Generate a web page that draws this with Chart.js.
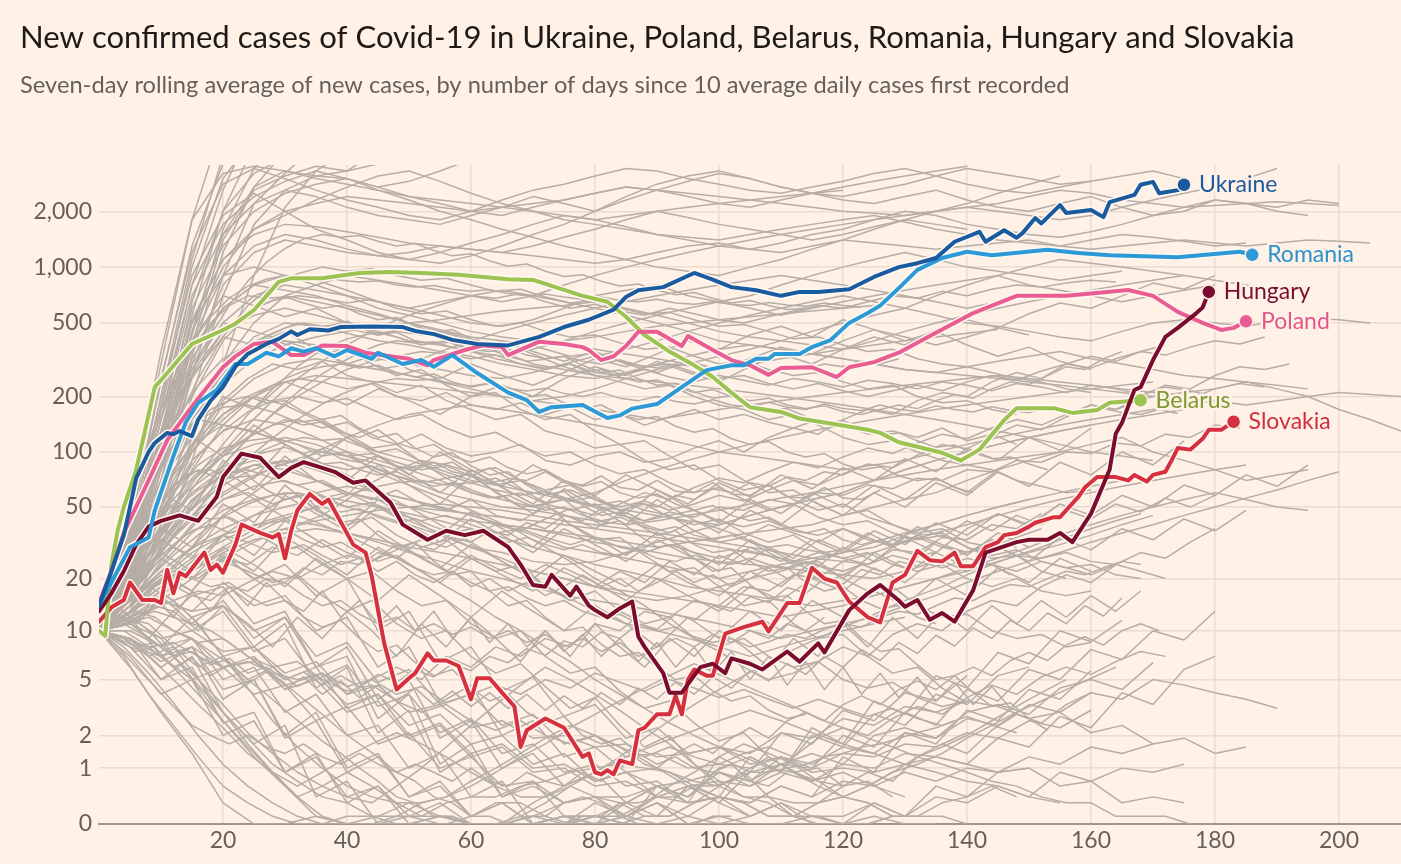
<!DOCTYPE html>
<html><head><meta charset="utf-8">
<script src="https://cdn.jsdelivr.net/npm/chart.js@4.4.0/dist/chart.umd.min.js"></script>
<style>html,body{margin:0;padding:0;background:#fff1e5;overflow:hidden}#wrap{width:1401px;height:864px;position:relative}canvas{display:block}</style>
</head><body><div id="wrap"><canvas id="c" width="1401" height="864"></canvas></div>
<script>
// ---------- DATA ----------
const titleText = "New confirmed cases of Covid-19 in Ukraine, Poland, Belarus, Romania, Hungary and Slovakia";
const subtitleText = "Seven-day rolling average of new cases, by number of days since 10 average daily cases first recorded";
const yTickValues = [0, 1, 2, 5, 10, 20, 50, 100, 200, 500, 1000, 2000];
const yTickLabels = ["0", "1", "2", "5", "10", "20", "50", "100", "200", "500", "1,000", "2,000"];
const xTickValues = [20, 40, 60, 80, 100, 120, 140, 160, 180, 200];
const countries = ["Ukraine", "Romania", "Hungary", "Poland", "Belarus", "Slovakia"];

// [day, 7-day average of new cases]
const ukraine = [[0,14],[2,22],[4,35],[5,50],[6,72],[8,100],[9,112],[11,127],[12,125],[13,130],[15,122],[16,150],[18,190],[20,225],[22,290],[24,340],[27,385],[29,410],[31,450],[32,430],[34,462],[37,455],[39,475],[44,478],[49,475],[51,452],[54,435],[57,405],[61,385],[66,378],[71,420],[75,475],[79,520],[83,590],[85,690],[87,750],[91,780],[96,930],[99,855],[102,780],[106,750],[110,700],[113,735],[116,735],[121,760],[125,885],[129,1000],[132,1050],[135,1120],[138,1370],[142,1550],[143,1370],[146,1580],[148,1440],[149,1530],[151,1840],[152,1720],[155,2160],[156,1960],[160,2030],[162,1860],[163,2240],[167,2450],[168,2780],[170,2880],[171,2500],[174,2600],[175,2780]];
const romania = [[0,14],[2,19],[5,30],[8,34],[9,48],[12,95],[14,145],[16,185],[19,217],[22,300],[24,300],[27,345],[29,330],[31,365],[33,350],[35,365],[38,330],[40,357],[44,320],[45,345],[49,300],[52,315],[54,290],[57,335],[61,268],[66,210],[69,191],[71,165],[73,175],[78,180],[82,153],[84,158],[86,172],[90,182],[94,225],[98,278],[102,295],[104,295],[106,320],[108,320],[109,340],[113,340],[115,370],[118,404],[121,500],[124,565],[126,620],[129,770],[132,966],[136,1120],[140,1210],[144,1160],[153,1240],[158,1190],[163,1160],[174,1130],[184,1210],[186,1165]];
const hungary = [[0,13],[2,16.5],[4,22],[6,31],[8,39],[10,42],[13,45],[16,42],[19,57],[20,73],[23,98],[26,93],[29,73],[31,82],[33,88],[36,82],[38,78],[41,68],[43,70],[47,53],[49,40],[53,33],[56,37],[59,35],[62,37],[66,30],[68,24],[70,18.4],[72,18],[73,21],[76,16],[77,18],[79,14],[80,13.2],[82,12],[84,13.5],[86,14.8],[87,9.2],[88,8],[91,5.5],[92,4.1],[94,4.1],[97,6],[99,6.3],[101,5.5],[102,6.8],[105,6.3],[107,5.8],[111,7.5],[113,6.5],[116,8.4],[117,7.4],[121,13.2],[124,16.5],[126,18.4],[129,15],[130,13.8],[132,15.1],[134,11.6],[136,12.7],[138,11.3],[141,17.2],[143,28],[148,32],[150,33],[153,33],[155,36],[157,32],[160,46],[163,80],[164,126],[165,144],[167,217],[168,225],[170,315],[172,420],[174,470],[177,565],[178,605],[179,735]];
const poland = [[0,14.5],[2,22],[4,36],[8,70],[11,116],[15,177],[20,288],[22,330],[25,385],[28,395],[31,335],[33,335],[36,378],[40,375],[43,345],[47,330],[50,320],[53,295],[54,315],[59,357],[62,378],[65,370],[66,335],[71,396],[75,385],[78,370],[79,357],[81,315],[83,330],[85,375],[87,448],[90,448],[94,375],[95,425],[99,357],[102,315],[105,295],[108,262],[110,285],[115,288],[119,255],[121,288],[125,307],[129,345],[134,425],[141,565],[148,700],[156,700],[160,720],[166,753],[170,700],[174,573],[178,500],[181,458],[183,470],[185,510]];
const belarus = [[0,10],[1,9.3],[2,24],[3,37],[4,50],[6,80],[9,225],[11,268],[15,385],[16,398],[20,458],[22,495],[25,587],[29,833],[31,870],[36,870],[42,930],[47,940],[52,930],[58,910],[62,885],[66,860],[70,853],[78,700],[82,650],[85,540],[88,430],[92,350],[96,295],[99,255],[102,210],[105,175],[110,165],[113,152],[118,143],[124,132],[126,127],[129,113],[136,99],[139,90],[142,103],[146,149],[148,173],[154,173],[157,163],[161,169],[163,185],[168,191]];
const slovakia = [[0,11.3],[2,13.7],[4,15.1],[5,19],[7,15.1],[9,15.1],[10,14.5],[11,22.4],[12,16.5],[13,21.6],[14,20.6],[17,28],[18,22.4],[19,24],[20,21.6],[22,31],[23,40],[26,36],[28,34],[29,35.5],[30,26],[31,37],[32,48],[34,59],[36,52],[37,55],[41,31],[43,28],[44,20.6],[46,8.4],[48,4.3],[50,5.1],[51,5.5],[53,7.3],[54,6.6],[56,6.6],[58,6.1],[60,3.7],[61,5.1],[63,5.1],[65,4.1],[67,3.3],[68,1.6],[69,2.2],[72,2.7],[75,2.3],[78,1.3],[79,1.4],[80,0.9],[81,0.85],[82,0.95],[83,0.85],[84,1.2],[86,1.1],[87,2.2],[88,2.3],[90,2.9],[92,2.9],[93,3.9],[94,2.9],[95,5],[96,5.8],[98,5.3],[99,5.3],[101,9.6],[104,10.5],[107,11.3],[108,9.9],[111,14.5],[113,14.5],[115,23],[117,20],[119,19],[121,14.8],[124,12],[126,11.2],[128,19],[130,21],[132,28.6],[134,25.4],[136,25],[138,28],[139,23.5],[141,23.5],[143,30],[145,32],[146,35],[148,36],[150,39],[151,41],[154,44],[155,44],[158,57],[159,64],[161,73],[164,73],[166,70],[167,75],[169,69],[170,75],[172,78],[173,90],[174,105],[176,103],[178,118],[179,132],[181,132],[183,146]];

// Other countries, group A: values every 5 days starting at day 0
const grayStep = 5;
const grayTop = [
 [10,45,300,1800,6000],
 [10,35,200,1100,4000],
 [10,30,150,800,2600,6000],
 [10,26,110,550,2000,4500],
 [10,22,95,430,1600,3400,5000],
 [10,30,180,1000,3000,5000],
 [10,18,70,330,1200,2700,4200],
 [10,16,60,260,900,2200,3200,4500],
 [10,24,100,450,1500,2700,3300,3100,3300,4200],
 [10,15,50,200,700,1700,2600,3100,3000,2700,2900,3300,3800],
 [10,22,120,650,2000,3200,3900],
 [10,38,240,1300,3600],
 [10,13,30,90,300,900,2100,3300,4200],
 [10,19,80,380,1400,2600,3100,3500,3300,3600,4000]
];
const grayHigh = [
 [10,30,150,700,1500,2200,2600,2400,2100,1900,1800,1700,1900,2100,2400,2200,2000,2300,2600,2900,3200,3000,2700,2500,2300,2200,2400,2600,2300,2100,2000,2200,2400,2100,1900,2000,2300,2200,2100,2300,2200],
 [10,25,110,500,1100,1600,1900,2300,2700,3100,3300,2900,2500,2200,2000,1800,1700,1600,1500,1450,1400,1500,1600,1700,1800,1900,1750,1600,1500,1400,1350,1300,1400,1500,1450,1380,1300,1350],
 [10,40,250,1200,2800,3400,3000,2600,2300,2100,1900,1800,2000,2300,2600,2800,3100,3400,3300,3000,2800,2600,2500,2700,2900,3200,3400,3100,2800,2600,2500,2700,2900,3100,3300,3000],
 [10,20,90,400,900,1300,1500,1400,1250,1150,1100,1200,1350,1500,1700,1900,1800,1650,1500,1400,1300,1250,1350,1500,1600,1800,2000,1900,1700,1600,1500,1450,1550,1700,1900,2100,2300,2200,2000,1900],
 [10,35,200,900,1900,2500,2000,1600,1400,1200,1100,1050,1150,1300,1500,1700,2000,2400,2800,3100,3300,3000,2700,2500,2400,2600,2800,3100,3400,3200,3000,2800,2900],
 [10,18,70,300,800,1200,1400,1300,1200,1150,1200,1300,1250,1200,1150,1100,1050,1100,1200,1300,1350,1250,1200,1300,1400,1350,1300,1250,1300,1350,1400,1300,1250,1300,1350,1400,1350,1300,1350,1400,1380,1350],
 [10,28,130,600,1300,2000,2500,2800,3000,2700,2400,2200,2000,1900,2100,2300,2500,2700,2600,2400,2200,2100,2300,2500,2700,2900,3100,3300,3500],
 [10,15,40,120,300,500,700,800,900,850,800,750,700,650,700,800,900,1000,1100,1200,1300,1400,1500,1600,1700,1800,1900,2000,2100,2000,1900,1800,1900,2100,2300,2500,2700,3000,3400],
 [10,50,350,1800,3200,3500,3300,3000,2800,2600,2400,2300,2200,2100,2000,1900,1800,1900,2000,2100,2200,2300,2400,2500,2600],
 [10,22,100,450,1000,1600,2000,2200,2400,2300,2200,2100,2000,2100,2200,2300,2500,2700,2600,2500,2400,2300,2200,2100,2000,1950,1900,2000,2100,2200,2400,2600,2500,2300,2200,2100,2150,2200,2250,2200,2150],
 [10,32,170,800,1700,2400,2900,3300,3000,2600,2300,2000,1800,1600,1450,1300,1200,1100,1000,950,900,1000,1100,1250,1400,1600,1800,2000,2200,2500,2800,3100],
 [10,26,120,520,1100,1500,1700,1650,1550,1450,1350,1300,1250,1200,1300,1450,1600,1800,2000,1850,1700,1600,1500,1400,1500,1650,1800,1700,1600]
];
const grayMid = [
 [10,30,120,350,600,800,900,850,750,650,600,550,500,480,520,600,700,750,800,700,650,600,550,600,650,700,750,800,850,900,800,750,700,650,700,750,800],
 [10,22,80,250,450,550,600,550,500,450,400,380,350,330,360,400,450,500,550,600,650,700,800,900,1000,1100,1200,1100,1000,950,900,850,900,950],
 [10,18,60,150,250,350,400,380,350,320,300,280,260,250,270,300,330,360,400,450,500,550,600,650,700,650,600,550,500,480,450,420,400,450,500,520,500,480,510,530,520,500],
 [10,25,100,300,500,450,400,350,300,280,300,350,400,450,500,550,600,650,700,750,800,850,900,850,800,750,700,650,600,650,700],
 [10,15,40,100,180,250,300,320,300,280,260,240,220,200,190,200,220,250,280,300,330,360,400,450,500,550,600,700,800,900,1000,1100,1050,1000,950,900,850,800,750],
 [10,20,70,200,400,600,700,650,600,550,500,450,400,350,300,280,260,250,240,230,220,210,200,190,180,170,160,150,140,130,120,110,100,95,90],
 [10,24,90,280,500,700,800,750,700,650,600,650,700,750,700,650,600,550,500,450,400,380,360,340,320,300,280,270,260,250,240,230,220,210,200,210,220,240,230,220],
 [10,16,50,140,280,420,500,480,440,400,380,350,330,300,280,260,250,270,300,330,360,380,360,340,320,300,280,270,290,310,330,350,320,300,280,260,250,240,220,200,170,150,130],
 [10,35,150,500,900,1000,900,800,700,600,550,500,450,420,400,380,360,340,320,300,280,300,320,340,360,380,400,420,440,460],
 [10,14,35,80,140,200,240,260,250,240,230,220,210,200,190,180,170,160,150,160,170,180,190,200,210,220,230,240,250,260,250,240,230,220,210,200,190,180,190,200,210,205,200],
 [10,28,110,320,600,800,750,700,620,560,500,460,420,400,380,400,420,450,480,500,520,540,560,580,600,620],
 [10,20,55,130,230,320,380,420,450,480,500,520,550,580,600,620,650,600,550,500,450,420,400,380,360,400,450,500,550,600,650,700,750,800,850,900],
 [10,26,95,260,420,380,450,360,300,340,280,250,300,260,230,270,320,290,340,400,360,430,480,420,520,460,400,450,380,330,370,310,280],
 [10,17,45,110,200,170,240,210,180,220,190,160,200,230,200,250,290,260,310,270,240,290,340,300,360,420,380,460,520,470,560,640,600,700,820,760,900],
 [10,30,130,400,700,620,540,600,500,430,480,410,360,400,350,310,350,300,270,310,280,320,370,340,400,460,420,380,420,470,430]
];
const grayLowMid = [
 [10,20,45,90,130,150,140,120,100,90,80,70,60,55,50,55,60,70,80,90,100,110,120,130,140,150,160,170,180,190,200,210,220,230,240],
 [10,14,25,40,55,65,70,60,50,45,40,35,30,28,25,24,25,28,32,36,40,45,50,55,60,70,80,90,100,110,120,130,140],
 [10,18,35,60,80,90,85,70,60,50,42,36,30,26,22,20,18,16,15,16,18,20,22,25,28,32,36,40,45,50,55],
 [10,12,20,30,45,60,80,100,120,140,160,170,180,170,160,150,140,130,120,110,100,95,90,85,80,85,90,100,110,120,130,140,150,160,170,180,190],
 [10,16,30,50,70,85,90,80,70,60,55,50,45,40,38,35,32,30,28,26,25,24,23,22,21,20,22,25,28],
 [10,22,50,100,160,200,180,150,120,100,90,80,70,65,60,55,50,48,45,42,40,45,50,55,60,70,80,90,100,110,120,130,140,150,160,170],
 [10,13,18,25,35,45,55,60,65,60,55,50,45,40,35,30,28,26,24,22,20,22,24,26,28,30,35,40,45,50,55,60,65,70],
 [10,15,22,30,38,45,50,55,60,55,50,45,42,40,38,36,34,32,30,32,34,36,38,40,45,50,55,60,70,80,90,100,110,120,100,90,80,70,75,80],
 [10,25,60,110,140,130,110,90,75,60,50,40,32,25,20,16,13,11,10,9,8,7,8,9,10,11,12],
 [10,11,15,20,26,32,38,42,45,48,50,52,50,48,45,42,40,38,36,34,32,30,28,26,25,28,32,36,40,45,50,55,60,65,70,75,80,85],
 [10,19,40,70,95,110,120,110,95,80,70,60,55,50,48,45,42,40,42,45,48,52,56,60,65,70,75,80,85,90,95,100],
 [10,12,16,22,28,33,36,38,36,33,30,28,26,24,22,20,18,17,16,15,14,13,12,13,14,16,18,20,23,26,30,35,40,45,50,55,60,55,50,48],
 [10,17,32,55,75,85,80,70,60,55,50,48,46,44,42,40,38,36,34,32,30,28,26,24,22],
 [10,13,20,28,35,40,42,40,36,32,28,25,22,20,18,16,15,14,13,12,11,10,9,10,11,12,14,16,19,22,25,28,32,36,40,45,50,56,62,70,78],
 [10,15,24,36,48,55,60,58,54,50,46,42,38,34,30,27,24,22,20,18,17,16,15,14,15,16,18,20,22,25,28,31,35,40,45],
 [10,21,38,30,52,41,66,48,39,55,44,35,47,38,30,42,34,27,36,29,24,33,27,22,30,25,34,28,38,46,40,52],
 [10,18,28,22,35,27,42,33,26,37,29,23,31,25,20,27,22,18,24,19,16,22,18,25,20,28,23,32,27,36,30],
 [10,24,55,42,80,62,95,70,58,85,66,52,74,58,46,63,50,40,55,44,36,48,40,54,45,60,50,68,58,78,65,88,75,100,85,115],
 [10,16,26,20,30,24,18,26,20,15,21,16,12,17,13,10,14,11,8,12,9,13,10,15,12,17,14,20,16,23,19,26,22],
 [10,28,70,120,95,140,110,90,120,95,75,100,80,65,85,70,58,75,62,52,68,57,75,63,82,70,92,78,105,90,120,102,135],
 [10,14,22,17,28,22,34,27,21,30,24,19,26,21,17,23,19,15,20,16,13,18,15,20,17,23,19,26,22,30,25,34,29,38,33,43,37,48],
 [10,19,33,26,45,36,58,46,37,50,40,32,43,35,28,38,31,25,33,27,22,30,25,33,28,37,31,41,35,46,39,52,45,58,50,66,58,75,65,85],
 [10,26,60,48,90,72,110,88,70,95,76,60,80,64,52,70,57,46,62,50,41,55,46,60,50,66,55,72,60,80]
];
const grayLow = [
 [10,12,7,9,5,6,3,4,2,2.4,1,1.4,0.4,0.7,0,0.1,0,0.3,0.6,0.4,1,1.3,0.9,2,1.6,2.9,2.4,4,3.4,5.3,6],
 [10,8,5,6,2.5,3,0.9,1.4,0.3,0.6,0,0.1,0,0,0.1,0,0.3,0.1,0.4,0.6,0.3,0.9,1.1,0.7,0.9,0.6,0.4],
 [10,13,16,11,15,9,12,6,8,3.7,5,1.9,2.6,1,1.4,0.6,0.9,0.3,0.6,0.4,0.9,0.6,1.1,1.4,1.1,2,2.3,1.9,3,3.4,2.9,4.4,5,4.3,6.4],
 [10,9,5,7,3,1.7,2.4,0.4,0.7,0,0,0.1,0,0,0.1,0.3,0.4,0.1,0.3,0,0,0.1,0.3],
 [10,11,8,12,7,8,5,6,3.2,4,2,2.5,1.4,1.7,1,1.1,0.7,0.9,0.6,0.7,0.9,0.7,1.3,1,2,1.6,3,2.4,4.3,3.6,5.8,5,7.7,6.7,10,8.8,13],
 [10,14,20,16,18,11,13,6,7,2.7,4,1.1,1.7,0.4,0.7,0.1,0.1,0.3,0.1,0.6,0.4,1.3,0.9,2.3,1.7,3.6,2.9,5.3,4.4,7.4,6.3,10,8.6,11.5],
 [10,9,6,8,4.3,5,2,3,1,1.4,0.4,0.7,0.1,0.3,0,0,0.1,0,0.6,0.3,1.3,0.9,2.1,1.7,3.1,2.6,4.1,3.6,5.3],
 [10,12,15,13,19,14,16,10,12,6,8,3.5,4.6,2,2.6,1.3,1.6,0.9,1,0.6,0.7,0.6,0.9,0.7,1.1,1,1.4,1.3,1.1,0.9,1,0.6,0.7,0.3,0.4,0.3],
 [10,7,4,5,2,2.6,0.9,1.3,0.4,0.6,0.1,0.3,0,0,0,0.1,0,0.1,0,0.1,0,0,0,0,0],
 [10,11,9,10,7.5,8,5.5,6.5,4,4.6,3,3.4,2.3,2.6,1.9,2,1.6,1.7,1.3,1.4,1.6,1.4,2.1,1.9,2.7,2.4,3.3,3,3.6,3.3,2.7,3,2.1,2.4,1.7,1.9,1.4,1.6],
 [10,13,17,12,14,8,11,4.4,6,2.1,3.1,0.9,1.4,0.4,0.6,0.3,0.4,0.4,0.6,0.4,0.9,0.7,1.1,1,1.4,1.3,1.7,1.6,2.1,1.9,2.6,2.3,3.1],
 [10,8,7,5,6,4,4.6,2.6,3.3,1.7,2.1,1,1.3,0.6,0.7,0.3,0.4,0.1,0.3,0,0.1,0,0,0.1,0,0.3,0.1,0.6,0.4,0.9,1],
 [10,15,21,17,27,20,24,16,20,10,13,6.5,8,4.2,5.2,2.8,3.4,1.9,2.3,1.4,1.6,1.1,1.3,0.9,1,0.9,1.1,1.3,1.1,1.9,1.6,2.8,2.3,4.1,3.4,5.8,7],
 [10,9,7,8,6,6.5,4.6,5.3,3.4,4,2.4,2.9,1.7,2,1.1,1.4,0.7,0.9,0.4,0.6,0.3,0.1,0.3,0,0,0.1,0,0],
 [10,10,8,9,6,7,4.3,5,3,3.6,1.9,2.4,1.3,1.6,0.9,1,0.6,0.7,0.4,0.3,0.4,0.3,0.6,0.4,1.3,0.9,2.1,1.7,3.1,2.6,4.3,3.7,5.7],
 [10,12,14,10,13,7.5,9,5,6.2,3.3,4,2.1,2.7,1.4,1.7,0.9,1.1,0.6,0.7,0.3,0.4,0.1,0.3,0.1,0.1,0.3,0.1,0.4,0.3,0.6,0.4,0.9,0.7,1,0.9,1.1],
 [10,11,15,13,14,10,12,7,8.5,4.8,5.8,3.4,4,2.4,2.9,1.7,2,1.3,1.4,1,1.1,1,1.3,1.1,1.6,1.4,2.1,1.9,2.7,2.4,3.4,3,4.1,3.7,5,4.6,4.1,3.7,3.2],
 [10,9,6.5,8,3.7,5,1.9,2.6,0.9,1.3,0.4,0.6,0.1,0.3,0,0.1,0,0.1,0.3,0.1,0.4,0.3,0.6,0.4,0.7,0.6,0.9,0.7,1,0.9,1.3,1.1,1.6,1.4,1.7],
 [10,6,3,1.4,0.3,0,0,0.1,0,0,0.1,0,0,0,0,0.1,0.1,0,0,0,0],
 [10,12,9,5,2.6,1.3,0.6,0.1,0,0.1,0.3,0.1,0,0,0.3,0.6,0.9,1.3,1.7,2.1,2.6,3.1,2.6,2.1,1.7,1.4,1.1,0.9,0.7,0.6,0.4,0.3]
];
// Other countries, group B: values every 4 days starting at day 0
const denseStep = 4;
const grayDense = [
 [10,18,35,70,120,190,250,300,280,310,260,240,210,230,190,170,150,160,130,120,105,110,90,80,85,70,62,66,55,48,52,44,40,36,38,32,30,34,38],
 [10,15,28,45,70,95,120,140,150,135,145,120,110,125,105,95,100,110,90,85,95,100,88,92,105,115,100,120,135,125,150,170,160,190,210,200,240,270,250,300,330,310,350,380],
 [10,14,22,30,42,55,60,52,58,46,40,44,35,30,33,26,22,24,18,15,17,13,11,12,9,8,9,7,6,6.5,5,4.4,4.8,3.8,3.3,3.6],
 [10,25,60,120,200,300,380,440,500,470,510,450,420,380,400,350,320,300,280,300,260,240,220,230,200,180,170,150,160,140,120,110,115,100,90,85,80,70,65,60,62],
 [10,13,17,22,20,26,24,30,27,33,28,25,31,26,22,27,23,20,24,21,18,22,19,25,21,27,24,30,26,33,29,36,31,39,34,42,37,45,40,48,43,52,47,56,50,58],
 [10,20,38,60,85,105,115,120,110,95,100,80,70,62,55,48,42,36,30,25,20,17,14,11,9,7.5,6,5,5.5,6.5,8,7,9.5,11,10,13,15,14,18,21,19,24,28,26,32,38],
 [10,22,45,80,120,160,200,230,250,240,220,235,200,190,210,180,170,185,160,175,150,160,140,155,170,150,160,145,135,150,140,125,130,120,135,115,125,110],
 [10,12,16,20,25,30,36,42,45,40,35,30,26,22,18,15,12,10,8,6.5,5,4,3.2,2.5,2,1.6,1.3,1,0.9,0.7,0.6,0.7,0.4],
 [10,16,28,45,70,100,140,190,250,310,380,450,520,580,640,700,680,720,650,600,630,580,550,600,560,520,500,540,580,620,600,650,700,680,740,700,760,800,780,820,850,830],
 [10,17,30,48,62,75,80,72,66,70,60,55,62,52,48,55,45,42,50,44,38,46,40,36,42,38,34,40,36,32,38,34,30,35,31,28,33,30],
 [10,11,13,15,17,16,19,22,20,24,27,25,29,33,30,35,40,37,43,49,45,52,60,55,64,72,68,78,88,82,94,105,98,112,125,118,135,150,140,160,180,170,190,210,195,220,235,225],
 [10,14,19,25,31,35,32,28,30,24,20,22,17,14,15,11,9,10,7,5.5,6,4.2,3.2,3.6,2.5,1.8,2.1,1.3,0.9,1,0.6],
 [10,19,36,60,95,130,165,190,200,185,195,170,150,160,135,120,128,108,95,100,85,76,80,68,60,64,55,48,52,44,40,42,36,33,35,30,27,29,25,23,24,21,20],
 [10,15,24,35,48,60,72,82,90,86,80,84,74,68,72,62,56,60,52,48,52,45,42,47,44,50,48,55,52,60,58,66,63,72,70,80,78,90,88,100,98,112,108,125,120,140,135],
 [10,28,70,140,230,320,380,400,370,340,360,300,260,280,230,200,210,170,150,160,130,110,115,95,80,85,70,60,62,52,45,48,40,35,36,30,26,27,22,20],
 [10,13,17,21,24,25,22,19,21,16,13,15,11,9,10,7,5.5,6.3,4.5,3.2,3.8,2.4,1.6,2,1.1,0.6,0.9,0.4,0.1,0.3,0.6,0.9,0.7,1.3,1.7,1.4,2.2,2.9,2.5,3.4,4.1],
 [10,30,70,120,150,140,130,120,110,100,95,88,80,85,75,68,72,62,58,62,55,50,54,48,52,58,54,62,70,66,76,86,82,96,110,104,122,140,132,155,180,170,200,230,220,260,290,280,300],
 [10,14,20,27,35,44,52,58,60,55,50,53,46,42,45,40,36,38,34,31,34,30,28,31,28,26,29,27,25,28,26,24,27,25,23,26,24,22,25,23,21,24,22,20],
 [10,30,80,170,300,450,580,660,700,680,640,670,600,560,580,520,480,500,450,420,430,390,360,370,330,300,310,280,260,270,240,220,230,200,185,190,170,160],
 [10,11,12,10,8.5,9,7,6,6.5,5,4.2,4.6,3.6,3,3.4,2.6,2.2,2.6,2,1.7,2,1.6,1.3,1.6,1.3,1.1,1.4,1.6,1.3,1.9,2.3,2,2.7,3.3,2.9,3.8,4.6,4,5.2,6,5.4,6.5,7.5,7],
 [10,16,24,34,46,58,70,82,92,100,95,98,88,80,84,74,66,70,60,54,57,48,42,45,37,32,34,28,24,25,20,17,18,14,12,12.5,10,9,9.5,8,8.5],
 [10,14,22,35,55,85,120,160,200,240,280,310,330,350,340,320,335,300,285,300,270,260,280,255,240,260,245,230,250,240,225,245,235,220,240,230,215,235,225,210,230,220,205,225,215,200],
 [10,20,40,65,80,70,58,48,40,45,55,68,80,90,85,78,82,70,62,66,55,48,52,44,40,43,36,32,35,29,26,28,24,22,24,20,18,20,17,16,17],
 [10,12,9,13,10,14,11,8,12,9,13,10,7,11,8,12,9,6.5,10,7,11,8,6,9,7,10,8,6,9,7,11,8,12,9,13,10,14,11,15,12,16,13,17],
 [10,25,60,130,250,420,620,800,920,1000,950,980,900,850,870,800,740,760,690,640,660,600,560,570,520,480,490,450,410,420,380,350,360,320,300,290,270,250,240,220,210],
 [10,9,7,8,6,7,5,6,4.5,5.5,4,5,6,5,7,6,8,7,9,8,11,10,13,12,15,14,18,17,21,20,25,24,29,28,34,33,40,38,46],
 [10,26,60,110,150,175,180,165,145,150,125,105,110,88,72,76,60,50,52,40,33,34,27,22,23,18,14,15,11,9,9.5,7,5.5,6,4.4,3.5],
 [10,16,28,48,75,110,160,220,290,360,410,440,450,430,445,410,380,395,360,330,345,310,290,300,270,250,260,235,220,235,215,200,215,230,215,240,260,245,275,300,285,320,350,335,370,400,385,420],
 [10,9,8,8.5,7,6,6.5,5.5,5,5.5,4.5,5,4,4.5,3.5,4,4.6,4,5,4.4,5.5,4.8,4.2,5,4.4,3.8,4.3,3.7,3.2,3.7,3.2,2.8,3.2,2.7,2.4,2.8,2.4,2.1],
 [10,12,15,19,24,29,34,40,46,52,58,64,68,70,66,68,62,58,61,55,51,54,48,45,48,42,39,42,37,35,38,33,31,34,30,28,31,27,26,28,25,24]
];
const grayZero = [
 [10,7,4,2.4,1.3,0.6,0.3,0.1,0,0,0.1,0.1,0,0,0,0.1,0.3,0.3,0.1,0,0,0,0.1,0.1,0.3,0.4,0.3,0.1,0.1,0,0,0,0.1],
 [10,12,11,8,5,3,1.7,0.9,0.4,0.6,0.9,0.6,0.3,0.1,0.1,0,0,0.1,0.3,0.6,0.4,0.3,0.1,0.1,0.3,0.6,0.9,1.3,0.9,0.6,0.4,0.3,0.1,0.1,0.3,0.4,0.6,0.4],
 [10,14,18,15,11,7,4.4,2.6,1.6,1,0.6,0.4,0.3,0.3,0.4,0.7,1,1.4,1.9,2.4,2,1.6,1.1,0.9,0.6,0.4,0.3,0.1,0.1,0.3,0.4,0.6,0.9,1.1,1.4,1.9,2.4,3,3.6,4.3,5.1,6],
 [10,8,5.5,3.5,2,1.1,0.6,0.3,0.1,0,0,0,0,0,0,0,0,0,0,0,0.1,0.1,0.3,0.6,0.9,1.3,1.7,1.4,1.1,0.7,0.4,0.3,0.1,0.1,0.1,0],
 [10,11,9,7,4.6,3,1.9,1.1,0.7,0.4,0.3,0.1,0.1,0.1,0.3,0.4,0.4,0.6,0.7,0.9,1,1.1,1,0.9,0.7,0.6,0.4,0.4,0.3,0.3,0.4,0.6,0.9,1.3,1.6,2,2.6,3.3,4.1,5],
 [10,13,10,7,5,3.4,2.1,1.4,0.9,0.6,0.4,0.3,0.6,1,1.6,2.4,3.4,4.6,6,5,4,3.1,2.3,1.7,1.1,0.7,0.4,0.3,0.1,0.1,0,0,0.1],
 [10,9,7,5,3.4,2.3,1.4,0.9,0.6,0.9,1.3,1.7,2.1,1.7,1.3,0.9,0.6,0.4,0.4,0.6,0.9,1.3,1.9,2.6,3.4,4.3,5.3,6.4,7.7,9,10.5,12,14,16,18,21,24,27,30,34,38,42,46],
 [10,10,8,6,4,2.6,1.6,0.9,0.4,0.1,0,0,0.1,0.3,0.4,0.6,0.9,1.3,1.7,2.3,2.9,3.6,4.4,5.3,6.3,5.4,4.6,3.9,3.3,2.7,2.3,1.9,1.6,1.3,1.1,0.9,0.7,0.6,0.4,0.3,0.3,0.1,0.1,0.1,0]
];
// Other countries, group C: values every 3 days starting at day 0
const extraStep = 3;
const grayExtra = [
 [10,16,26,40,55,72,88,105,120,135,150,140,146,128,120,132,112,104,110,95,88,94,82,76,80,70,65,69,60,56,59,52,48,51,45,42,44,39,36,38,33,31,33,29,27,28,25,23,24,21],
 [10,14,19,25,31,37,40,36,38,33,29,31,27,24,26,22,25,21,19,22,18,20,17,19,16,18,21,18,20,17,19,22,19,21,18,20,23,20,22,19,21,24],
 [10,20,34,52,75,100,130,160,190,220,250,275,290,300,285,295,270,255,265,240,225,235,210,198,205,185,172,180,160,150,156,138,128,134,118,110,114,100,94,98,86,80,83,74,70,72,64,60],
 [10,13,16,19,21,20,18,19,16,14,15,12,10.5,11.5,9,7.5,8.2,6.4,5.3,5.8,4.4,3.6,4,3,2.5,2.8,2,1.7,1.9,1.4,1.1,1.3,1,0.9,1.1,0.7,0.6,0.9],
 [10,12,11,14,13,16,15,18,17,20,19,23,21,25,24,28,26,31,29,34,32,37,35,41,38,45,42,49,46,53,50,58,55,63,60,68,65,73,70,78,75,83],
 [10,22,40,70,110,160,220,290,360,420,470,500,480,490,450,430,445,400,385,395,360,350,360,335,320,330,310,300,315,295,285,300,290,280,295,285,275,290,280,300,290,310,300,320],
 [10,20,34,50,66,78,80,72,74,62,55,58,47,41,43,35,30,32,25,21,22,17,14,15,12,10,10.5,8.3,7,7.4,6,5,5.3,4.2,3.6,3.9,3.1,2.7,2.9],
 [10,18,28,40,52,64,76,86,94,100,106,98,104,92,88,96,84,80,88,78,74,82,72,70,78,68,66,74,64,62,70,61,60,68,59,58,66,57,56,64,56,55,62],
 [10,15,21,26,30,27,24,26,21,18,19,16,14,15,12.5,11,12,10,11,9.5,10.5,9,10,8.5,9.5,8,9,7.5,8.5,7,8,9,8,9.5,8.5,10,9,11,10,12],
 [10,24,50,95,170,280,430,620,840,1060,1260,1420,1500,1450,1480,1380,1300,1340,1230,1150,1180,1080,1010,1040,950,890,910,840,790,810,750,710,730,680,640,660,620,590,600],
 [10,12,13,12,10,9,7.5,6.3,5,4,3.1,2.4,1.8,1.4,1,0.7,0.4,0.3,0.1,0.1,0,0,0,0.1,0.1,0.3,0.4,0.3,0.1,0,0,0,0,0.1,0.1],
 [10,22,42,70,105,140,170,190,200,185,190,165,150,158,135,120,126,105,94,99,84,75,78,66,58,61,51,45,47,40,35,37,31,28,29,25,22,23,19,17,18,15,13.5,14,12,11],
 [10,14,11,16,12,17,13,18,14,19,15,13,17,12,15,11,14,10,13,9,12,8.5,11,8,10,7.5,9.5,7,9,6.5,8.5,6,8,5.5,7.5,5,7,4.6,6.5,4.3,6,4,5.5,3.8,5.2,3.6,4.8,3.4,4.5,3.2],
 [10,14,20,28,38,52,70,92,118,150,185,225,265,305,345,380,400,390,395,370,350,360,330,310,318,290,270,280,255,240,246,225,210,218,200,190,196,180,172,178,166,160,170,180,172,190,205,196,220,240,232,260,290,280,320,350],
 [10,12,15,18,22,26,30,34,38,42,45,48,50,47,49,44,41,43,39,36,38,34,32,34,31,29,31,28,27,29,26,25,27,25,24,26,24,23,25,23,22,24,22],
 [10,15,22,31,42,54,67,80,92,104,114,120,116,118,108,100,104,92,84,88,76,68,71,60,53,55,46,40,42,35,30,31,26,22,23,18.5,15.5,16,13,11,11.5,9,7.5,7.8,6.2,5,5.3,4.1,3.3,3.5,2.7,2.2],
 [10,9,8,8.5,7,7.5,6.2,6.8,5.5,6,5,5.6,4.6,5.3,4.5,5.4,4.8,5.8,5.2,6.3,5.7,7,6.4,7.8,7.1,8.7,8,9.8,9,11,10.2,12.5,11.5,14,13,15.8,14.6,17.8,16.5,20,18.6,22.5,21,25,23.5,28],
 [10,28,65,130,230,360,500,620,700,680,690,640,600,620,560,520,535,480,445,460,410,380,390,350,320,330,295,270,278,250,230,236,212,196,202,182,168,172,156,144,148,134,124,127,115,106,109,99,92,94,86,80],
 [10,9,7.5,8,6,6.8,5.3,6.2,4.7,5.6,4.3,5.2,4,4.9,3.8,4.6,3.6,4.4,3.4,4.2,3.3,4.1,3.2,4,3.1,3.9,3.2,4.1,3.4,4.4,3.7,4.8,4,5.2,4.4,5.7,4.9,6.3,5.4,7,6,7.7,6.6,8.5,7.3,9.4,8.1,10.4,9,11.5,10,12.7,11,14,12.2,15.5],
 [10,13,18,25,34,45,58,74,92,112,134,158,182,205,225,240,250,245,248,235,228,236,222,214,222,208,200,210,196,190,200,188,182,192,180,175,186,175,170,182,172,168,180,170,166,178,170,165,176,168,164,174,166,162,172,164,160,170,162],
 [10,30,70,140,250,390,540,680,790,860,900,880,890,850,830,845,800,780,795,760,740,755,720,700,715,690,670,690,660,650,670,640,630,650,630,620,645,625,615,640,620,610],
 [10,11,12,13,12,11,10,8.5,7,5.8,4.7,3.7,2.9,2.2,1.7,1.3,0.9,0.7,0.4,0.3,0.1,0.1,0,0,0,0,0.1,0.1,0.3,0.3,0.4,0.4,0.6,0.6,0.7,0.9,0.9,1,1.1,1.3,1.4,1.6,1.7,1.9,2.1,2.3,2.6],
 [10,17,26,35,42,45,43,44,39,36,38,33,30,32,28,25,27,23,21,22,19,17,18,15.5,14,15,13,12,12.5,11,10,10.5,9.2,8.5,9,8,8.6,9.5,9,10.2,11,10.5,12,13,12.5,14,15.5,15,17,18.5,18,20,22,21,23,25,24],
 [10,15,22,30,39,49,59,69,78,85,89,90,86,88,80,75,78,70,65,68,60,56,58,52,48,50,45,42,44,40,37,39,35,33,35,32,30,31,29,28,29],
 [10,8,6,4.5,3.3,2.4,2,1.7,2,1.6,1.4,1.7,1.3,1.1,1.4,1.1,0.9,1.1,0.9,0.7,1,0.7,0.6,0.9,0.7,0.6,0.9,0.7,1,1.3,1,1.4,1.7,1.4,1.9,2.3,1.9,2.6,3,2.6,3.4,3.9,3.4,4.3,4.9,4.3,5.3,6,5.3,6.6,7.4,6.6,8.2,9.2,8.2,10,11,10]
];

// ---------- STYLE ----------
const BG = "#fff1e5";
const GRAY = "#b6ada6";
const lineColors = ["#1a5a9e", "#2b9ad6", "#7a0c2e", "#ea5d93", "#9cc351", "#d6303f"];
const labelColors = ["#1a5a9e", "#2a93cf", "#7a0c2e", "#e2578b", "#7a9a30", "#cf2f3e"];
const FONT = "Lato, 'Open Sans', sans-serif";
const Y_TOP = 3.5506; // log10(1 + value) at top of plot

const T = v => Math.log10(1 + v);
const series = [ukraine, romania, hungary, poland, belarus, slovakia];

const datasets = [];
series.forEach((s, i) => {
  const pts = s.map(p => ({x: p[0], y: T(p[1])}));
  const n = pts.length;
  datasets.push({
    label: countries[i], data: pts, borderColor: lineColors[i], borderWidth: 4,
    borderJoinStyle: 'round', borderCapStyle: 'round', tension: 0, order: 1,
    pointRadius: ctx => ctx.dataIndex === n - 1 ? 7 : 0,
    pointBackgroundColor: lineColors[i], pointBorderColor: BG, pointBorderWidth: 1.5,
    pointHoverRadius: 0, isHighlight: true, labelColor: labelColors[i]
  });
  datasets.push({
    label: countries[i] + "-halo", data: pts, borderColor: "#fff7f0", borderWidth: 7,
    borderJoinStyle: 'round', borderCapStyle: 'round', tension: 0, order: 2, pointRadius: 0
  });
});
function addGray(lines, step, tag) {
  lines.forEach((g, k) => {
    datasets.push({
      label: tag + k, data: g.map((v, i) => ({x: i * step, y: T(v)})),
      borderColor: GRAY, borderWidth: 1.5, borderJoinStyle: 'round', tension: 0, order: 3, pointRadius: 0
    });
  });
}
addGray([...grayTop, ...grayHigh, ...grayMid, ...grayLowMid, ...grayLow], grayStep, "a");
addGray([...grayDense, ...grayZero], denseStep, "b");
addGray(grayExtra, extraStep, "c");

function fitSize(ctx, text, target, weight) {
  ctx.font = weight + " 100px " + FONT;
  return 100 * target / ctx.measureText(text).width;
}

const decor = {
  id: 'decor',
  beforeDraw(chart) {
    const c = chart.ctx;
    c.save();
    c.fillStyle = BG; c.fillRect(0, 0, chart.width, chart.height);
    c.textBaseline = 'alphabetic'; c.textAlign = 'left';
    const ts = fitSize(c, titleText, 1275, "400");
    c.font = "400 " + ts + "px " + FONT; c.fillStyle = "#1d1a18";
    c.fillText(titleText, 20, 48);
    const ss = fitSize(c, subtitleText, 1050, "400");
    c.font = "400 " + ss + "px " + FONT; c.fillStyle = "#66605c";
    c.fillText(subtitleText, 20, 93);
    c.restore();
  },
  afterDatasetsDraw(chart) {
    const c = chart.ctx;
    c.save();
    c.font = "400 23px " + FONT; c.textBaseline = 'middle'; c.textAlign = 'left';
    c.lineJoin = 'round';
    chart.data.datasets.forEach((ds, i) => {
      if (!ds.isHighlight) return;
      const meta = chart.getDatasetMeta(i);
      const pt = meta.data[meta.data.length - 1];
      const x = pt.x + 15, y = pt.y;
      c.strokeStyle = BG; c.lineWidth = 5; c.strokeText(ds.label, x, y);
      c.fillStyle = ds.labelColor; c.fillText(ds.label, x, y);
    });
    c.restore();
  }
};

new Chart(document.getElementById('c'), {
  type: 'line',
  data: {datasets},
  options: {
    responsive: false, animation: false, devicePixelRatio: 1, events: [],
    layout: {padding: {top: 165, left: 0, right: 0, bottom: 0}, autoPadding: false},
    plugins: {legend: {display: false}, tooltip: {enabled: false}, title: {display: false}},
    scales: {
      x: {
        type: 'linear', min: 0, max: 210,
        afterBuildTicks: axis => { axis.ticks = xTickValues.map(v => ({value: v})); },
        afterFit: s => { s.height = 40; },
        grid: {color: "#eadccf", lineWidth: 1.5, drawTicks: false},
        border: {display: true, color: "#9f958e", width: 2},
        ticks: {color: "#66605c", font: {family: FONT, size: 23}, padding: 3, maxRotation: 0,
                callback: v => String(v)}
      },
      y: {
        type: 'linear', min: 0, max: Y_TOP,
        afterBuildTicks: axis => { axis.ticks = yTickValues.map(v => ({value: T(v)})); },
        afterFit: s => { s.width = 99; },
        grid: {color: "#eadccf", lineWidth: 1.5, drawTicks: false},
        border: {display: false},
        ticks: {color: "#66605c", font: {family: FONT, size: 23}, padding: 7,
                callback: (v, i) => yTickLabels[i]}
      }
    }
  },
  plugins: [decor]
});
</script></body></html>
